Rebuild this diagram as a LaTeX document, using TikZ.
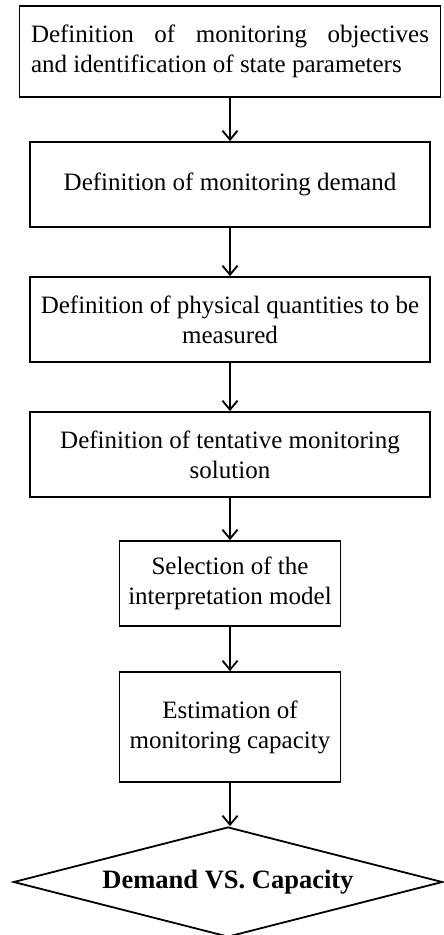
\documentclass[tikz,border=0pt]{standalone}
\usepackage{fontspec}
\setmainfont{Liberation Serif}
\usetikzlibrary{shapes.geometric, arrows.meta}

\begin{document}
\begin{tikzpicture}[x=1pt, y=-1pt,
    stepbox/.style={draw, line width=1.8pt, align=center, inner sep=0pt,
        font=\fontsize{25}{30}\selectfont},
    decision/.style={draw, diamond, aspect=3.9, line width=1.8pt, inner sep=0pt,
        font=\fontsize{26.5}{30}\selectfont\bfseries},
    flow/.style={-{Straight Barb[length=9pt,width=15pt]}, line width=1.8pt}]
\useasboundingbox (0,0) rectangle (444,935);

% Steps
\node[stepbox, text width=398pt, align=justify, minimum width=421pt, minimum height=91pt]
    (objectives) at (230,51.5) {Definition of monitoring objectives\linebreak and identification of state parameters};
\node[stepbox, minimum width=400pt, minimum height=85pt] (demand) at (230,184.5) {Definition of monitoring demand};
\node[stepbox, minimum width=400pt, minimum height=85pt] (quantities) at (230,319.5) {Definition of physical quantities to be\\ measured};
\node[stepbox, minimum width=400pt, minimum height=85pt] (solution) at (230,454.5) {Definition of tentative monitoring\\ solution};
\node[stepbox, minimum width=221pt, minimum height=85pt] (model) at (230,583.5) {Selection of the\\ interpretation model};
\node[stepbox, minimum width=221pt, minimum height=110pt] (capacity) at (230,727) {Estimation of\\ monitoring capacity};

% Check
\node[decision, minimum width=429pt, minimum height=110pt] (check) at (228,882) {Demand VS. Capacity};

\draw[flow] (objectives) -- (demand);
\draw[flow] (demand) -- (quantities);
\draw[flow] (quantities) -- (solution);
\draw[flow] (solution) -- (model);
\draw[flow] (model) -- (capacity);
\draw[flow] (capacity.south) -- (capacity.south |- check.north);
\end{tikzpicture}
\end{document}
